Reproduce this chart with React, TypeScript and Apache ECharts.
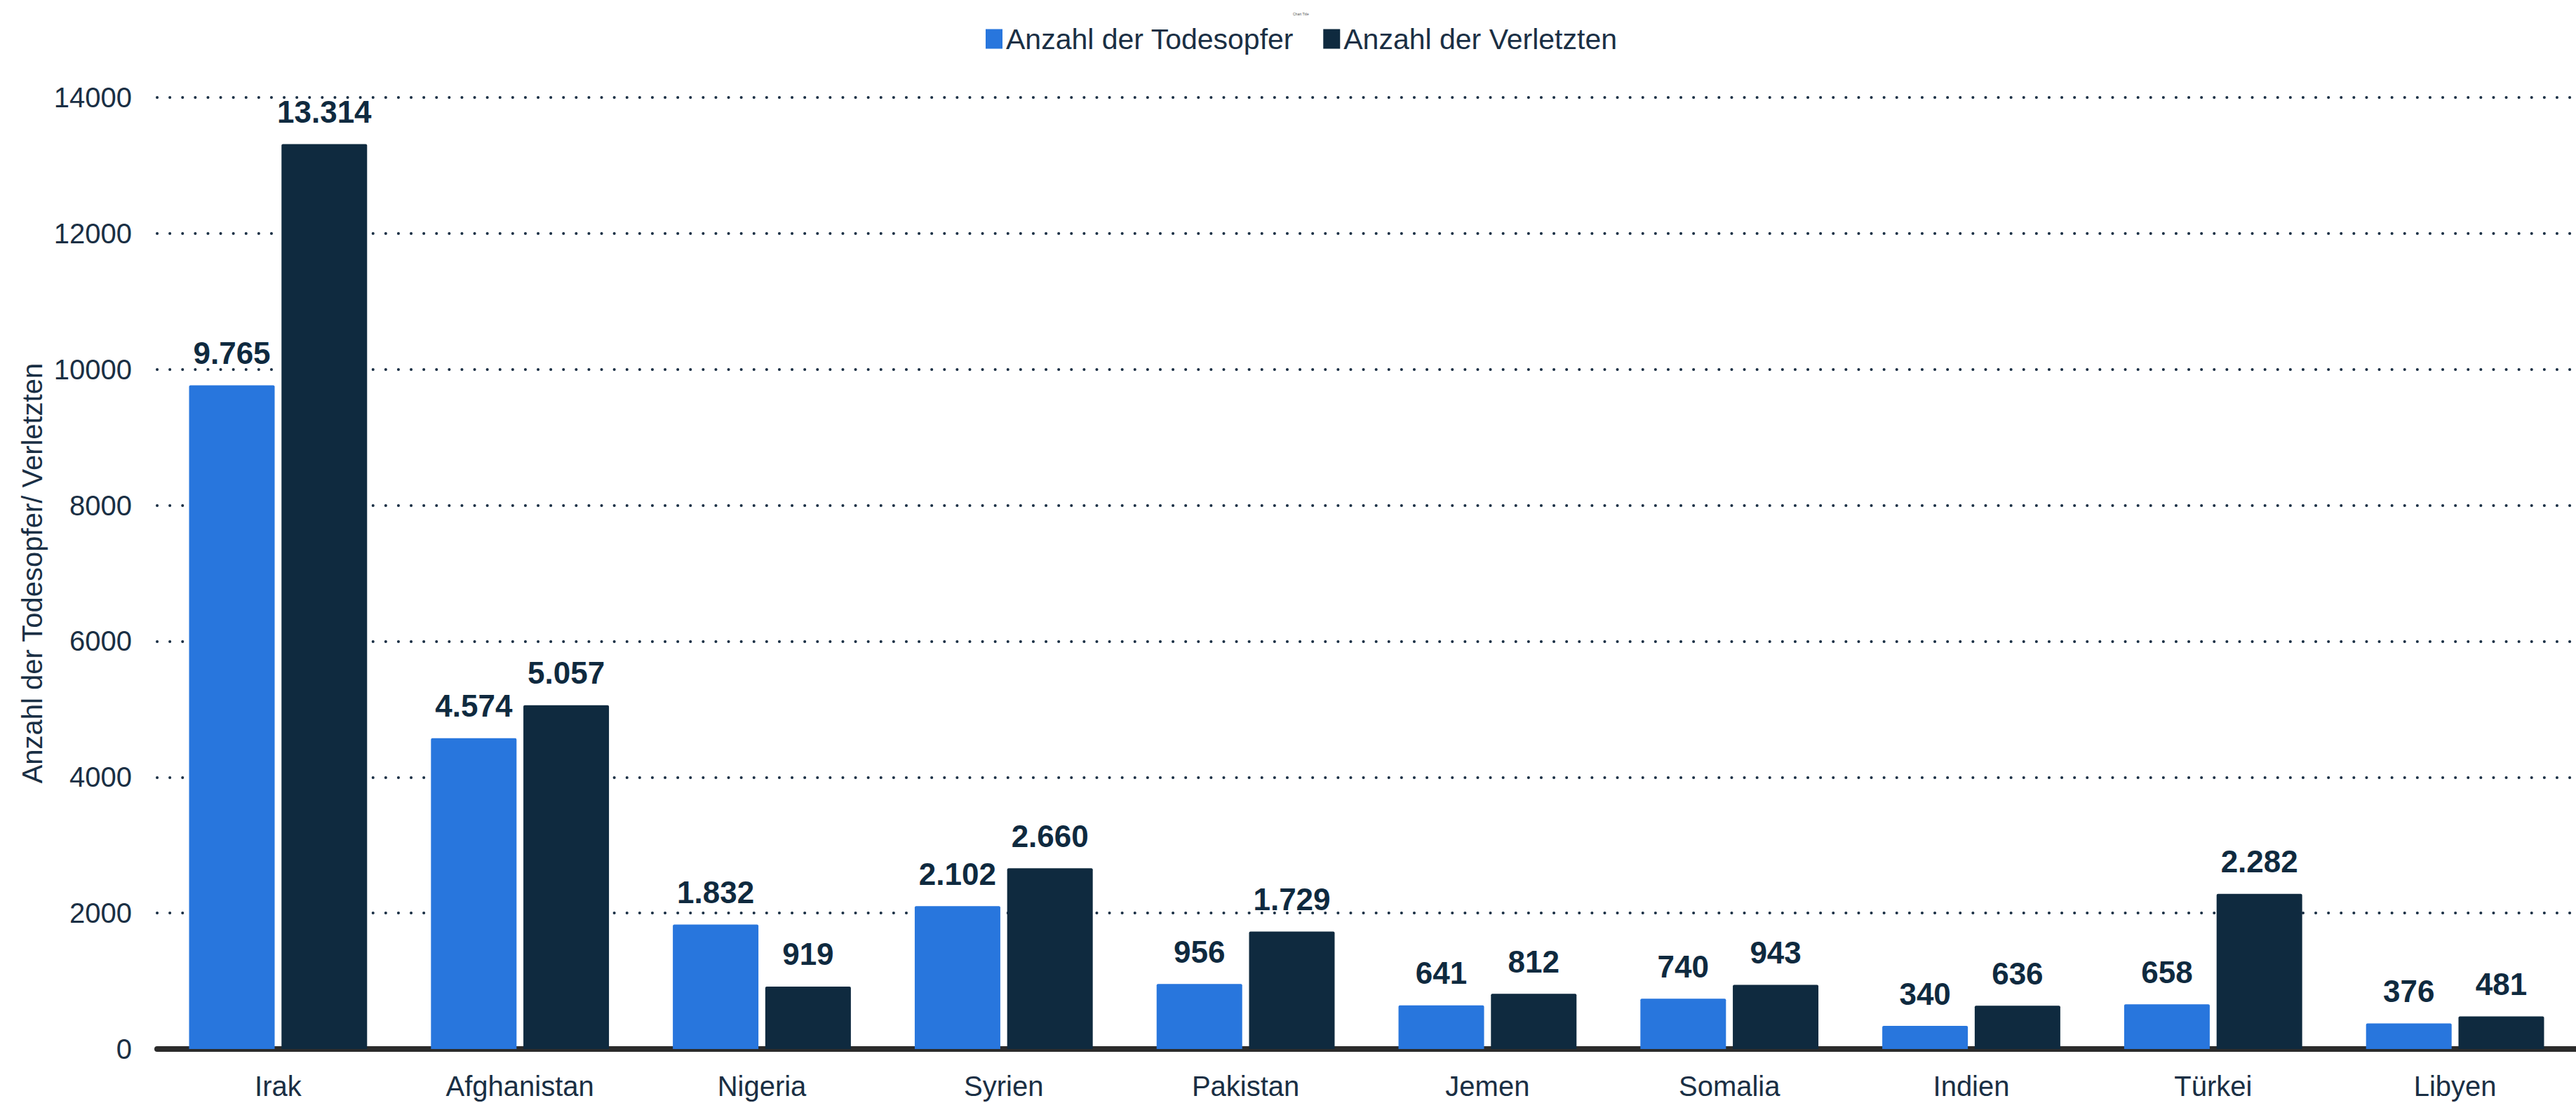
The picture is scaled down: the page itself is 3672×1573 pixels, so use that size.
import React, { useEffect, useRef } from "react";
import * as echarts from "echarts";

const categories = ["Irak", "Afghanistan", "Nigeria", "Syrien", "Pakistan", "Jemen", "Somalia", "Indien", "Türkei", "Libyen"];
const todesopfer = [9765, 4574, 1832, 2102, 956, 641, 740, 340, 658, 376];
const verletzte = [13314, 5057, 919, 2660, 1729, 812, 943, 636, 2282, 481];
const seriesNames = ["Anzahl der Todesopfer", "Anzahl der Verletzten"];
const yAxisName = "Anzahl der Todesopfer/ Verletzten";

const BLUE = "#2876dd";
const NAVY = "#0f2a3f";
const TEXT = "#1a2f44";

const fmt = (v: number) => v.toString().replace(/\B(?=(\d{3})+(?!\d))/g, ".");

export default function App() {
  const ref = useRef<HTMLDivElement>(null);
  useEffect(() => {
    if (!ref.current) return;
    const chart = echarts.init(ref.current, undefined, { renderer: "svg" });
    const labelCfg = {
      show: true,
      position: "top",
      distance: 24,
      fontFamily: "Liberation Sans, Arial, sans-serif",
      fontWeight: "bold",
      fontSize: 44,
      color: NAVY,
      formatter: (p: any) => fmt(p.value),
    };
    chart.setOption({
      animation: false,
      backgroundColor: "#ffffff",
      textStyle: { fontFamily: "Liberation Sans, Arial, sans-serif" },
      title: {
        text: "Chart Title",
        left: 1838,
        top: 12,
        textStyle: { fontSize: 5, color: "#555", fontWeight: "normal" },
      },
      legend: {
        top: 30,
        left: 1400,
        itemWidth: 24,
        itemHeight: 28,
        itemGap: 42,
        icon: "rect",
        textStyle: { fontSize: 41, color: TEXT, padding: [0, 0, 0, 0] },
        data: seriesNames,
      },
      grid: { left: 224, right: -8, top: 139, bottom: 77, containLabel: false },
      xAxis: {
        type: "category",
        data: categories,
        offset: 4,
        axisLine: { show: true, lineStyle: { color: "#2b2b2b", width: 8 } },
        axisTick: { show: false },
        axisLabel: { fontSize: 40, color: TEXT, margin: 29 },
      },
      yAxis: {
        type: "value",
        min: 0,
        max: 14000,
        interval: 2000,
        name: yAxisName,
        nameLocation: "middle",
        nameGap: 123,
        nameTextStyle: { fontSize: 40, color: TEXT },
        axisLine: { show: false },
        axisTick: { show: false },
        axisLabel: { fontSize: 40, color: TEXT, margin: 36, formatter: (v: number) => String(v) },
        splitLine: {
          show: true,
          lineStyle: { color: "#1a2f44", width: 4, type: [0.1, 18], cap: "round" },
        },
      },
      series: [
        {
          name: seriesNames[0],
          type: "bar",
          data: todesopfer,
          barWidth: 122,
          barGap: "8%",
          itemStyle: { color: BLUE, borderRadius: [2, 2, 0, 0] },
          label: labelCfg,
        },
        {
          name: seriesNames[1],
          type: "bar",
          data: verletzte,
          barWidth: 122,
          barGap: "8%",
          itemStyle: { color: NAVY, borderRadius: [2, 2, 0, 0] },
          label: labelCfg,
        },
      ],
    });
    return () => chart.dispose();
  }, []);
  return (
    <div
      ref={ref}
      style={{ position: "fixed", left: 0, top: 0, width: 3672, height: 1573, background: "#fff" }}
    />
  );
}
